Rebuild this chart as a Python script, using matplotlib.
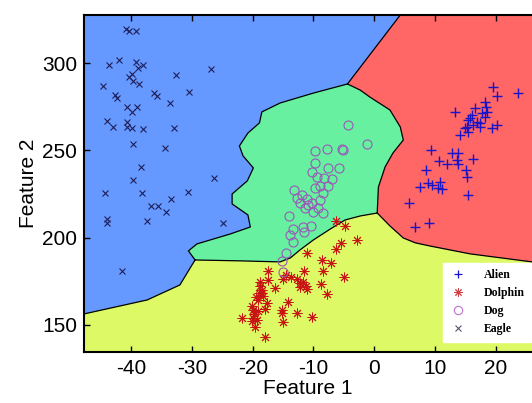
import numpy as np
import matplotlib
matplotlib.use('Agg')
import matplotlib.pyplot as plt
from matplotlib.lines import Line2D

plt.rcParams['axes.unicode_minus'] = False

# ---------------- data ----------------
alien_x = [19.6, 20.3, 23.7, 18.3, 18.5, 18.6, 16.6, 17.8, 13.3, 16.1, 15.5, 15.8, 17.0, 17.5,
           18.3, 16.3, 17.5, 15.3, 19.4, 20.3, 14.2, 15.5, 15.0, 9.4, 12.9, 13.8, 13.7, 10.7,
           12.0, 16.3, 13.8, 8.6, 15.2, 15.3, 8.9, 7.6, 9.6, 10.9, 10.5, 11.2, 5.8, 15.5, 6.8, 9.1]
alien_y = [286.3, 281.1, 282.8, 277.7, 274.8, 272.0, 274.2, 271.4, 272.0, 270.2, 267.4, 268.5, 266.2, 265.7,
           269.1, 264.5, 263.4, 263.4, 262.8, 264.5, 258.8, 260.5, 262.8, 250.2, 248.5, 248.5, 244.5, 243.9,
           242.2, 245.0, 242.2, 238.8, 238.8, 234.7, 231.3, 229.0, 230.2, 231.9, 228.4, 227.9, 219.9, 224.4, 206.1, 208.4]

dolphin_x = [-6.3, -4.8, -2.8, -5.4, -6.3, -11.0, -8.6, -7.1, -8.4, -4.9, -11.5, -17.5, -8.7, -7.7,
             -14.5, -15.0, -13.7, -12.7, -12.2, -11.7, -11.2, -11.0, -12.2, -18.8, -17.5, -18.5, -18.5,
             -16.3, -19.1, -17.6, -14.2, -20.1, -19.9, -19.1, -18.0, -15.2, -15.2, -12.7, -10.2, -21.7,
             -19.9, -19.3, -15.0, -19.6, -18.0, -18.8, -18.9, -18.3, -19.4, -19.8, -20.1]
dolphin_y = [209.6, 206.7, 198.7, 197.0, 193.5, 191.2, 187.2, 185.5, 180.9, 177.5, 180.9, 180.9, 173.5, 167.8,
             178.7, 176.4, 177.5, 176.4, 174.1, 174.6, 172.4, 170.6, 171.8, 174.6, 175.8, 170.1, 168.3,
             171.2, 164.3, 162.6, 163.2, 160.9, 158.6, 158.0, 159.2, 158.6, 156.9, 156.9, 154.6, 154.0,
             154.0, 152.9, 151.7, 148.9, 143.2, 172.4, 168.3, 166.6, 166.0, 156.3, 152.3]

dog_x = [-4.3, -1.2, -9.7, -7.7, -5.3, -5.1, -9.7, -7.6, -5.8, -10.2, -9.4, -8.2, -6.9, -8.9, -7.6,
         -9.7, -8.4, -13.2, -12.7, -11.0, -12.2, -10.2, -8.9, -11.4, -10.0, -8.4, -9.2, -14.0, -13.3,
         -11.7, -10.4, -11.5, -13.8, -13.3, -14.5, -15.2, -15.0, -11.9, -10.9]
dog_y = [264.5, 253.6, 249.6, 250.8, 250.8, 250.2, 242.8, 239.9, 239.9, 237.6, 234.7, 234.2, 233.6, 229.6, 229.6,
         228.4, 225.6, 227.3, 222.7, 222.2, 219.9, 219.9, 221.6, 217.0, 214.7, 214.1, 217.0, 212.4, 205.0,
         206.1, 206.7, 203.3, 201.5, 197.5, 191.2, 186.7, 180.4, 224.4, 218.7]

eagle_x = [-40.9, -40.4, -39.2, -43.7, -42.0, -39.2, -38.1, -38.9, -39.9, -40.4, -39.7, -38.7, -44.6, -32.6,
           -26.8, -42.7, -42.3, -36.2, -35.7, -30.5, -33.6, -40.7, -39.9, -39.0, -44.0, -43.0, -40.7, -40.7,
           -39.9, -38.1, -32.9, -39.7, -34.4, -38.4, -39.7, -44.3, -38.2, -30.6, -26.4, -33.4, -36.7, -35.6,
           -34.3, -44.0, -44.0, -37.4, -24.9, -41.5]
eagle_y = [319.5, 318.3, 318.3, 298.9, 301.7, 300.6, 298.9, 297.1, 293.7, 292.0, 289.7, 288.0, 286.8, 293.1,
           296.6, 281.7, 280.0, 282.8, 281.1, 283.4, 277.1, 274.8, 272.0, 274.8, 266.8, 263.4, 266.2, 263.4,
           262.8, 262.2, 262.8, 253.6, 251.3, 240.5, 233.0, 225.6, 225.6, 226.2, 234.2, 222.2, 218.1, 218.1,
           214.7, 210.7, 208.4, 209.6, 208.4, 181.1]

# decision boundaries
b_eagle_dolphin_x = [-47.8, -37.4, -32.0, -30.3, -29.5]
b_eagle_dolphin_y = [156.3, 164.3, 172.9, 182.7, 187.2]
b_eagle_dog_x = [-29.5, -30.6, -29.2, -23.7, -20.4, -20.8, -23.4, -23.4, -20.9, -19.9, -21.6, -22.2,
                 -20.8, -18.9, -18.5, -15.5, -10.0, -4.4]
b_eagle_dog_y = [187.2, 192.4, 196.4, 202.1, 206.1, 213.0, 219.3, 225.0, 232.5, 239.9, 246.8, 252.5,
                 259.9, 265.7, 272.0, 277.1, 282.8, 288.0]
b_eagle_alien_x = [-4.4, 4.3]
b_eagle_alien_y = [288.0, 327.5]
b_dog_alien_x = [-4.4, -2.3, -0.7, 2.6, 4.3, 4.8, 3.1, 1.8, 0.7, 0.5]
b_dog_alien_y = [288.0, 284.5, 280.5, 273.1, 263.4, 255.9, 248.5, 240.5, 229.0, 214.1]
b_dog_dolphin_x = [-29.5, -22.1, -15.5, -13.8, -12.2, -10.0, -7.2, -4.8, -2.3, 0.5]
b_dog_dolphin_y = [187.2, 186.7, 186.1, 188.4, 193.0, 198.7, 205.0, 210.1, 212.4, 214.1]
b_dolphin_alien_x = [0.5, 2.6, 4.8, 6.8, 9.2, 15.8, 26.0]
b_dolphin_alien_y = [214.1, 206.7, 199.8, 197.0, 195.2, 190.7, 186.1]

labels = ['Alien', 'Dolphin', 'Dog', 'Eagle']
x_ticks = [-40, -30, -20, -10, 0, 10, 20]
y_ticks = [150, 200, 250, 300]
XMIN, XMAX, YMIN, YMAX = -47.8, 26.0, 134.5, 327.5

# ---------------- styling ----------------
C_BLUE = '#6699ff'
C_RED = '#ff6666'
C_GREEN = '#66f0a0'
C_YELLOW = '#ddfa66'

fig = plt.figure(figsize=(5.32, 4.03), dpi=100)
ax = fig.add_axes([84 / 532, 51 / 403, 448 / 532, 337 / 403])
ax.set_facecolor(C_BLUE)
ax.set_xlim(XMIN, XMAX)
ax.set_ylim(YMIN, YMAX)

# regions
yx = [XMIN] + b_eagle_dolphin_x + b_dog_dolphin_x[1:] + b_dolphin_alien_x[1:] + [XMAX]
yy = [YMIN] + b_eagle_dolphin_y + b_dog_dolphin_y[1:] + b_dolphin_alien_y[1:] + [YMIN]
ax.fill(yx, yy, color=C_YELLOW, lw=0, zorder=1)

gx = b_dog_dolphin_x + b_dog_alien_x[::-1][1:] + b_eagle_dog_x[::-1][1:]
gy = b_dog_dolphin_y + b_dog_alien_y[::-1][1:] + b_eagle_dog_y[::-1][1:]
ax.fill(gx, gy, color=C_GREEN, lw=0, zorder=1)

rx = b_dog_alien_x + b_dolphin_alien_x[1:] + [XMAX] + b_eagle_alien_x[::-1]
ry = b_dog_alien_y + b_dolphin_alien_y[1:] + [YMAX] + b_eagle_alien_y[::-1]
ax.fill(rx, ry, color=C_RED, lw=0, zorder=1)

for bx, by in [(b_eagle_dolphin_x, b_eagle_dolphin_y), (b_eagle_dog_x, b_eagle_dog_y),
               (b_eagle_alien_x, b_eagle_alien_y), (b_dog_alien_x, b_dog_alien_y),
               (b_dog_dolphin_x, b_dog_dolphin_y), (b_dolphin_alien_x, b_dolphin_alien_y)]:
    ax.plot(bx, by, color='black', lw=0.9, zorder=2, solid_joinstyle='round')

# points
star = (8, 2, 0)
ax.plot(alien_x, alien_y, ls='none', marker='+', ms=7, mew=1.0, color='#1a14c8', zorder=3)
ax.plot(dolphin_x, dolphin_y, ls='none', marker=star, ms=7, mew=0.7, color='#c81414', zorder=3)
ax.plot(dog_x, dog_y, ls='none', marker='o', ms=6.5, mew=0.8, mfc='none', mec='#9a58b8', zorder=3)
ax.plot(eagle_x, eagle_y, ls='none', marker='x', ms=4.5, mew=0.8, color='#1e1e5a', zorder=3)

# axes styling
for s in ['left', 'bottom', 'top']:
    ax.spines[s].set_linewidth(1.5)
    ax.spines[s].set_zorder(5)
ax.spines['right'].set_visible(False)
ax.set_xticks(x_ticks)
ax.set_yticks(y_ticks)
ax.tick_params(direction='in', length=4, width=1, top=True, right=False,
               labelsize=15, pad=5)
for lab in ax.get_xticklabels() + ax.get_yticklabels():
    lab.set_fontfamily('Liberation Sans')
ax.set_xlabel('Feature 1', fontsize=15, family='Liberation Sans', labelpad=1)
ax.set_ylabel('Feature 2', fontsize=15, family='Liberation Sans', labelpad=3)

handles = [
    Line2D([], [], ls='none', marker='+', ms=6, mew=0.9, color='#1a14c8'),
    Line2D([], [], ls='none', marker=star, ms=6, mew=0.7, color='#d04040'),
    Line2D([], [], ls='none', marker='o', ms=6, mew=0.8, mfc='none', mec='#c070d0'),
    Line2D([], [], ls='none', marker='x', ms=4, mew=0.8, color='#555577'),
]
leg = ax.legend(handles, labels, loc='upper left', bbox_to_anchor=(443 / 532, 1 - 263 / 403),
                bbox_transform=fig.transFigure, frameon=True, fancybox=False,
                facecolor='white', edgecolor='white', framealpha=1,
                prop={'family': 'Liberation Serif', 'weight': 'bold', 'size': 8.5},
                handlelength=1.5, handletextpad=1.4, labelspacing=0.5,
                borderpad=0.55, borderaxespad=0)
leg.set_zorder(6)

fig.savefig('out.png', dpi=100)
